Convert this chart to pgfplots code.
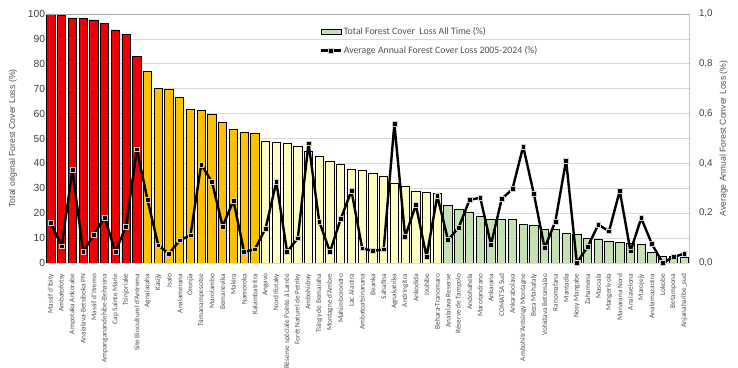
\documentclass[border=0pt]{standalone}
\usepackage{fontspec}
\setmainfont{Carlito}
\newfontfamily\arial{Liberation Sans}
\usepackage{pgfplots}
\pgfplotsset{compat=1.18}
\usetikzlibrary{calc}
\definecolor{redbar}{HTML}{EE0000}
\definecolor{goldbar}{HTML}{FFC000}
\definecolor{palebar}{HTML}{FFFFC4}
\definecolor{greenbar}{HTML}{C5E0B4}
\definecolor{txt}{HTML}{505050}
\definecolor{tick}{HTML}{404040}
\definecolor{gridc}{HTML}{D9D9D9}
\definecolor{framec}{HTML}{A6A6A6}
\pgfplotsset{
  boxlegend/.style={legend image code/.code={\draw[fill=greenbar,draw=black,line width=0.8pt] (0pt,-2.8pt) rectangle (20pt,2.8pt);}},
  linelegend/.style={legend image code/.code={\draw[mark repeat=2,mark phase=2,##1] plot coordinates {(0pt,0pt) (10pt,0pt) (20pt,0pt)};}},
}
\begin{document}
\begin{tikzpicture}
\begin{axis}[name=ax, scale only axis, width=644pt, height=249pt,
  xmin=-0.5, xmax=59.5, ymin=0, ymax=100,
  ybar, bar width=8.3pt, bar shift=0pt,
  axis line style={draw=none}, tick style={draw=none},
  ytick={0,10,...,100}, ymajorgrids, grid style={gridc, line width=0.6pt},
  xtick={0,...,59},
  xticklabels={Massif d'Ibity,Ambatofotsy,Ampotaka Ankorabe,Analalava-Betsiboka PN,Massif d'Itremo,Ampanganandehibe-Behasina,Cap Sainte Marie,Tsinjoriake,Site Bioculturel d'Antrema,Agnalazaha,Kasijy,Isalo,Analamerana,Oronjia,Tsimanampesotse,Marolambo,Bemanevika,Makira,Namoroka,Kalambatritra,Angavo,Nord Ifotaky,Réserve spéciale Pointe à Larrée,Forêt Naturel de Petriky,Ambohidray,Tsingy de Bemaraha,Montagne d'Ambre,Mahimborondro,Lac Alaotra,Ambatoatsinanana,Beanka,Sahafina,Agnakatrika,Andringitra,Ankodida,Ivohibe,Behara-Tranomaro,Analalava Reserve,Réserve de Tampolo,Andohahela,Marotandrano,Ankarana,COMATSA Sud,Ankarabolava,Ambohitr'Antsingy Montagne,Beza Mahafaly,Vohidava Betsimalao,Ranomafana,Mantadia,Nosy Mangabe,Zahamena,Masoala,Mangerivola,Manarana Nord,Analavelona,Marojejy,Analamazaotra,Lokobe,Betampona,Anjanaharibe\_sud},
  xticklabel style={rotate=90, anchor=east, font=\fontsize{7.3}{7.5}\selectfont, text=txt},
  xticklabel shift=3pt,
  /pgf/number format/assume math mode=true,
  yticklabel style={font=\arial\fontsize{10.3}{11}\selectfont, text=tick},
  yticklabel shift=-3pt,
  ylabel={Total original Forest Cover Loss (\%)},
  ylabel style={font=\arial\fontsize{8.7}{9}\selectfont, text=txt, yshift=4pt},
  every axis plot/.append style={draw=black, line width=0.8pt},
]
\addplot[fill=redbar] coordinates {(0,100) (1,99.3) (2,98.4) (3,98.3) (4,97.6) (5,96.3) (6,93.6) (7,91.8) (8,82.9)};
\addplot[fill=goldbar] coordinates {(9,76.9) (10,70.3) (11,69.9) (12,66.4) (13,61.8) (14,61.2) (15,59.8) (16,56.6) (17,53.5) (18,52.5) (19,52.1)};
\addplot[fill=palebar] coordinates {(20,48.7) (21,48.5) (22,48.2) (23,47.0) (24,45.0) (25,43.0) (26,40.8) (27,39.6) (28,37.5) (29,37.2) (30,36.0) (31,34.9) (32,32.0) (33,30.9) (34,28.6) (35,28.4) (36,28.0)};
\addplot[fill=greenbar] coordinates {(37,23.2) (38,21.6) (39,20.5) (40,18.9) (41,17.6) (42,17.4) (43,17.4) (44,15.4) (45,15.0) (46,13.6) (47,13.4) (48,12.0) (49,11.6) (50,9.8) (51,9.4) (52,8.7) (53,8.3) (54,8.0) (55,7.6) (56,4.4) (57,2.7) (58,2.7) (59,2.3)};
\draw[framec, line width=0.8pt] (rel axis cs:0,1) -- (rel axis cs:1,1) -- (rel axis cs:1,0);
\end{axis}
\begin{axis}[scale only axis, width=644pt, height=249pt,
  xmin=-0.5, xmax=59.5, ymin=0, ymax=1,
  axis x line=none, axis y line*=right, axis line style={draw=none}, tick style={draw=none},
  ytick={0,0.2,...,1.0},
  /pgf/number format/.cd, assume math mode=true, use comma, fixed, fixed zerofill, precision=1, /pgfplots/.cd,
  yticklabel style={font=\arial\fontsize{9.8}{10}\selectfont, text=tick},
  yticklabel shift=6pt,
  ylabel={Average Annual Forest Conver Loss (\%)},
  ylabel style={font=\arial\fontsize{8.7}{9}\selectfont, text=txt},
  legend style={at={(rel axis cs:0.421,0.96)}, anchor=north west, draw=none, fill=none,
    font=\fontsize{9.8}{10}\selectfont, text=txt, row sep=7pt,
    nodes={inner sep=1.5pt}},
  legend cell align=left,
]
\addlegendimage{boxlegend}
\addlegendentry{Total Forest Cover~ Loss All Time (\%)}
\addplot[black, line width=2.4pt, line join=round, mark=square*, mark size=2.4pt,
  mark options={fill=black, draw=gray!40, line width=0.5pt, line join=miter}, linelegend]
 coordinates {(0,0.160) (1,0.067) (2,0.374) (3,0.044) (4,0.114) (5,0.183) (6,0.044) (7,0.147) (8,0.457) (9,0.253) (10,0.071) (11,0.037) (12,0.091) (13,0.111) (14,0.396) (15,0.326) (16,0.147) (17,0.251) (18,0.044) (19,0.055) (20,0.139) (21,0.325) (22,0.045) (23,0.099) (24,0.481) (25,0.166) (26,0.045) (27,0.177) (28,0.290) (29,0.059) (30,0.048) (31,0.055) (32,0.558) (33,0.106) (34,0.233) (35,0.025) (36,0.269) (37,0.092) (38,0.143) (39,0.253) (40,0.262) (41,0.074) (42,0.257) (43,0.297) (44,0.468) (45,0.277) (46,0.060) (47,0.167) (48,0.412) (49,0.0) (50,0.064) (51,0.154) (52,0.127) (53,0.290) (54,0.047) (55,0.180) (56,0.076) (57,0.0) (58,0.024) (59,0.037)};
\addlegendentry{Average Annual Forest Cover Loss 2005-2024 (\%)}
\end{axis}
\pgfresetboundingbox
\path[use as bounding box] ($(ax.south west)+(-45.6pt,-105pt)$) rectangle ($(ax.north east)+(48.5pt,14pt)$);
\end{tikzpicture}
\end{document}
